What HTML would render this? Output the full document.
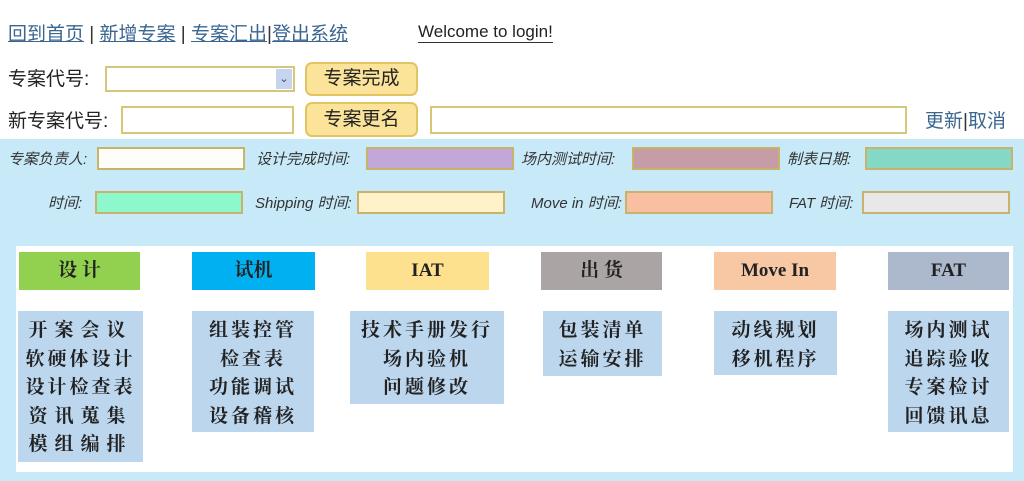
<!DOCTYPE html>
<html><head><meta charset="utf-8"><style>
*{margin:0;padding:0;box-sizing:border-box}
body{width:1024px;height:481px;position:relative;background:#fff;font-family:"Liberation Sans","Noto Sans CJK SC",sans-serif;overflow:hidden}
.a{position:absolute;white-space:nowrap}
.lk{color:#3a6690;font-size:19px;text-decoration:underline}
.sep{color:#333;font-size:19px}
.lbl{font-size:19px;color:#222}
.inp{position:absolute;border:2px solid #d6c67a;background:#fff}
.btn{position:absolute;background:#fce39a;border:2px solid #e2c463;border-radius:7px;font-size:19px;color:#222;text-align:center}
.it{position:absolute;font-style:italic;font-size:15px;color:#333;white-space:nowrap}
.fi{position:absolute;border:2px solid #c9b36a;height:23px;width:148px}
.hd{position:absolute;height:38px;text-align:center;line-height:38px;font-size:19px;color:#222;font-family:"Liberation Serif","Noto Serif CJK SC",serif;font-weight:bold}
.bd{position:absolute;background:#bcd6ee;text-align:center;font-size:19px;line-height:28.5px;padding-top:4px;letter-spacing:3px;color:#222;font-family:"Noto Serif CJK SC",serif;font-weight:bold}
.w{letter-spacing:7px}
</style></head><body>
<div class="a" style="left:8px;top:19px"><span class="lk">回到首页</span><span class="sep"> | </span><span class="lk">新增专案</span><span class="sep"> | </span><span class="lk">专案汇出</span><span class="sep">|</span><span class="lk">登出系统</span></div>
<div class="a" style="left:418px;top:22px;font-size:17px;color:#222;border-bottom:1.5px solid #333;line-height:20px">Welcome to login!</div>

<div class="a lbl" style="left:8px;top:64px">专案代号:</div>
<div class="inp" style="left:105px;top:66px;width:190px;height:26px"><div style="position:absolute;right:1px;top:1px;width:16px;height:20px;background:#c6d4f0;color:#446;font-size:11px;text-align:center;line-height:20px">&#8964;</div></div>
<div class="btn" style="left:305px;top:62px;width:113px;height:34px;line-height:30px">专案完成</div>

<div class="a lbl" style="left:8px;top:106px">新专案代号:</div>
<div class="inp" style="left:121px;top:106px;width:173px;height:28px"></div>
<div class="btn" style="left:305px;top:102px;width:113px;height:35px;line-height:31px">专案更名</div>
<div class="inp" style="left:430px;top:106px;width:477px;height:28px"></div>
<div class="a" style="left:925px;top:106px"><span class="lk" style="text-decoration:none">更新</span><span class="sep">|</span><span class="lk" style="text-decoration:none">取消</span></div>

<div style="position:absolute;left:0;top:139px;width:1024px;height:342px;background:#c8eaf8"></div>
<div class="it" style="left:8px;top:148px">专案负责人:</div><div class="fi" style="left:97px;top:147px;background:#fffdf8"></div>
<div class="it" style="left:256px;top:148px">设计完成时间:</div><div class="fi" style="left:366px;top:147px;background:#c3a7d8"></div>
<div class="it" style="left:521px;top:148px">场内测试时间:</div><div class="fi" style="left:632px;top:147px;background:#c69da6"></div>
<div class="it" style="left:787px;top:148px">制表日期:</div><div class="fi" style="left:865px;top:147px;background:#84d9c6"></div>
<div class="it" style="left:48px;top:192px">时间:</div><div class="fi" style="left:95px;top:191px;background:#8df8cc"></div>
<div class="it" style="left:255px;top:192px">Shipping 时间:</div><div class="fi" style="left:357px;top:191px;background:#fff1c8"></div>
<div class="it" style="left:531px;top:192px">Move in 时间:</div><div class="fi" style="left:625px;top:191px;background:#f8c0a0"></div>
<div class="it" style="left:789px;top:192px">FAT 时间:</div><div class="fi" style="left:862px;top:191px;background:#e8e8e8"></div>

<div style="position:absolute;left:16px;top:246px;width:997px;height:226px;background:#fff"></div>
<div class="hd" style="left:19px;top:252px;width:121px;background:#92d050">设 计</div>
<div class="hd" style="left:192px;top:252px;width:123px;background:#00b0f0">试机</div>
<div class="hd" style="left:366px;top:252px;width:123px;background:#fde18f">IAT</div>
<div class="hd" style="left:541px;top:252px;width:121px;background:#aba4a4">出 货</div>
<div class="hd" style="left:714px;top:252px;width:122px;background:#f8c8a5">Move In</div>
<div class="hd" style="left:888px;top:252px;width:121px;background:#acb8cb">FAT</div>

<div class="bd" style="left:18px;top:311px;width:125px;height:151px"><span class="w">开案会议</span><br>软硬体设计<br>设计检查表<br><span class="w">资讯蒐集</span><br><span class="w">模组编排</span></div>
<div class="bd" style="left:192px;top:311px;width:122px;height:121px">组装控管<br>检查表<br>功能调试<br>设备稽核</div>
<div class="bd" style="left:350px;top:311px;width:154px;height:93px">技术手册发行<br>场内验机<br>问题修改</div>
<div class="bd" style="left:543px;top:311px;width:119px;height:65px">包装清单<br>运输安排</div>
<div class="bd" style="left:714px;top:311px;width:123px;height:64px">动线规划<br>移机程序</div>
<div class="bd" style="left:888px;top:311px;width:121px;height:121px">场内测试<br>追踪验收<br>专案检讨<br>回馈讯息</div>
</body></html>
